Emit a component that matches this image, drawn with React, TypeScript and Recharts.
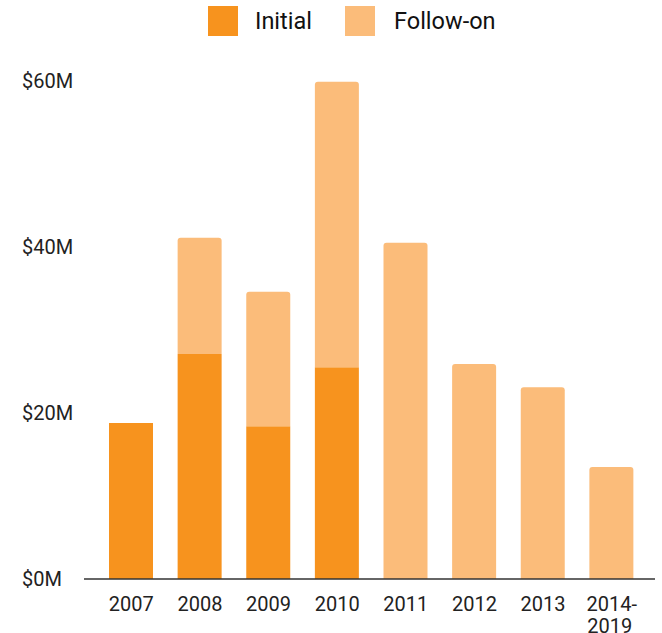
import React from 'react'
import { BarChart, Bar, XAxis, YAxis } from 'recharts'

const YEARS = ['2007', '2008', '2009', '2010', '2011', '2012', '2013', '2014-2019']
const INITIAL = [18.8, 27.1, 18.4, 25.5, 0, 0, 0, 0]
const FOLLOW_ON = [0, 14.0, 16.2, 34.4, 40.5, 25.9, 23.1, 13.5]
const Y_TICKS = [0, 20, 40, 60]

const data = YEARS.map((year, i) => ({
  year,
  initial: INITIAL[i],
  followOn: FOLLOW_ON[i],
}))

const ORANGE = '#F7931E'
const LIGHT = '#FBBC7A'
const FONT = 'Roboto, "Noto Sans", sans-serif'

function YTick({ y, payload }: any) {
  return (
    <text x={22} y={y} dy="0.35em" textAnchor="start" fontSize={20} fill="#222" fontFamily={FONT}>
      ${payload.value}M
    </text>
  )
}

function XTick({ x, y, payload }: any) {
  const parts = String(payload.value).split('-')
  return (
    <text x={x} y={y} textAnchor="middle" fontSize={20} fill="#222" fontFamily={FONT}>
      {parts.length > 1 ? (
        <>
          <tspan x={x} dy={32}>{parts[0]}-</tspan>
          <tspan x={x - 2} dy={22}>{parts[1]}</tspan>
        </>
      ) : (
        <tspan x={x} dy={32}>{parts[0]}</tspan>
      )}
    </text>
  )
}

function LegendItem({ color, label, left, textLeft }: { color: string; label: string; left: number; textLeft: number }) {
  return (
    <>
      <div style={{ position: 'absolute', left, top: 6, width: 30, height: 30, background: color }} />
      <div style={{ position: 'absolute', left: textLeft, top: 6, height: 30, lineHeight: '30px', fontSize: 23.5, color: '#111', fontFamily: FONT }}>
        {label}
      </div>
    </>
  )
}

export default function App() {
  return (
    <div style={{ position: 'absolute', left: 0, top: 0, width: 662, height: 633, background: '#fff' }}>
      <LegendItem color={ORANGE} label="Initial" left={208} textLeft={255} />
      <LegendItem color={LIGHT} label="Follow-on" left={345} textLeft={394} />
      <BarChart width={662} height={633} data={data} margin={{ top: 81, right: 7, bottom: 0, left: 0 }}>
        <XAxis
          dataKey="year"
          height={54}
          interval={0}
          tickLine={false}
          tickSize={0}
          tickMargin={0}
          padding={{ left: 13, right: 9 }}
          axisLine={{ stroke: '#333', strokeWidth: 1.5 }}
          tick={<XTick />}
        />
        <YAxis
          width={84}
          domain={[0, 60]}
          ticks={Y_TICKS}
          axisLine={false}
          tickLine={false}
          tick={<YTick />}
        />
        <Bar dataKey="initial" stackId="a" fill={ORANGE} barSize={44} isAnimationActive={false} />
        <Bar dataKey="followOn" stackId="a" fill={LIGHT} barSize={44} radius={[3, 3, 0, 0]} isAnimationActive={false} />
      </BarChart>
    </div>
  )
}
